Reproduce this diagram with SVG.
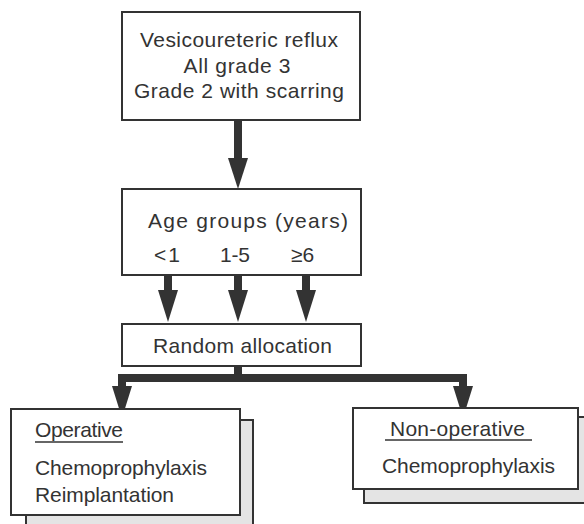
<svg xmlns="http://www.w3.org/2000/svg" width="584" height="524" viewBox="0 0 584 524">
<style>
.box{fill:#fff;stroke:#333;stroke-width:2}
.shadow{fill:#e4e4e4;stroke:#333;stroke-width:2}
.t{font-family:"Liberation Sans",Arial,sans-serif;font-size:21px;fill:#333}
.c{text-anchor:middle}
.shaft{stroke:#333;stroke-width:8;fill:none}
.head{fill:#333}
.ul{stroke:#333;stroke-width:1.5}
</style>
<rect width="584" height="524" fill="#fff"/>
<g id="connectors">
<line class="shaft" x1="238" y1="120" x2="238" y2="160"/>
<polygon class="head" points="228,158 248,158 238,189"/>
<line class="shaft" x1="168" y1="275" x2="168" y2="292"/>
<polygon class="head" points="158,290 178,290 168,322"/>
<line class="shaft" x1="238" y1="275" x2="238" y2="292"/>
<polygon class="head" points="228,290 248,290 238,322"/>
<line class="shaft" x1="306" y1="275" x2="306" y2="292"/>
<polygon class="head" points="296,290 316,290 306,322"/>
<line class="shaft" x1="238" y1="366" x2="238" y2="378"/>
<polyline class="shaft" points="122,392 122,378 463,378 463,392" stroke-linejoin="miter" stroke-width="7"/>
<polygon class="head" points="112,386 132,386 122,418"/>
<polygon class="head" points="453,386 473,386 463,418"/>
</g>
<g id="n1">
<rect class="box" x="122" y="12" width="238" height="108"/>
<text class="t c" x="239" y="47" textLength="198">Vesicoureteric reflux</text>
<text class="t c" x="237" y="73" textLength="107">All grade 3</text>
<text class="t c" x="239" y="98" textLength="210">Grade 2 with scarring</text>
</g>
<g id="n2">
<rect class="box" x="122" y="189" width="239" height="86"/>
<text class="t" x="148" y="228" textLength="200">Age groups (years)</text>
<text class="t" x="154" y="262" textLength="26">&lt;1</text>
<text class="t" x="220" y="262" textLength="30">1-5</text>
<text class="t" x="291" y="262">≥6</text>
</g>
<g id="n3">
<rect class="box" x="122" y="324" width="239" height="42"/>
<text class="t" x="153" y="353" textLength="179">Random allocation</text>
</g>
<g id="n4">
<rect class="shadow" x="26" y="420" width="227" height="110"/>
<rect class="box" x="11" y="409" width="229" height="106"/>
<text class="t" x="35" y="437" textLength="88">Operative</text>
<line class="ul" x1="35" y1="442" x2="123" y2="442"/>
<text class="t" x="35" y="475" textLength="172">Chemoprophylaxis</text>
<text class="t" x="35" y="502" textLength="139">Reimplantation</text>
</g>
<g id="n5">
<rect class="shadow" x="364" y="417" width="230" height="86"/>
<rect class="box" x="353" y="408" width="225" height="81"/>
<text class="t" x="390" y="436" textLength="135">Non-operative</text>
<line class="ul" x1="385" y1="440" x2="532" y2="440"/>
<text class="t" x="382" y="473" textLength="173">Chemoprophylaxis</text>
</g>
</svg>
